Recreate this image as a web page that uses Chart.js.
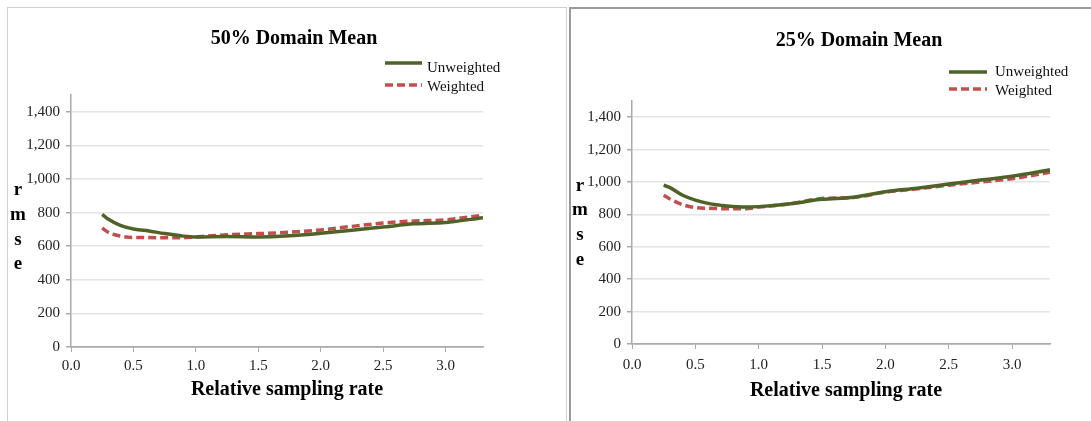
<!DOCTYPE html>
<html>
<head>
<meta charset="utf-8">
<script src="https://cdn.jsdelivr.net/npm/chart.js@4"></script>
<style>
  body { margin: 0; background: #fff; width: 1091px; height: 421px; overflow: hidden; position: relative; }
  .panel { position: absolute; box-sizing: border-box; background: #fff; }
  #p1 { left: 7px; top: 7px; width: 560px; height: 420px; border-left: 1px solid #d0d0d0; border-top: 1px solid #d0d0d0; border-right: 1px solid #d0d0d0; }
  #p2 { left: 569px; top: 7px; width: 530px; height: 420px; border-left: 2px solid #9a9a9a; border-top: 2px solid #9a9a9a; }
  canvas { position: absolute; }
</style>
</head>
<body>
<div class="panel" id="p1"></div>
<div class="panel" id="p2"></div>
<canvas id="c1" width="558" height="413" style="left:8px;top:8px"></canvas>
<canvas id="c2" width="520" height="412" style="left:571px;top:9px"></canvas>
<script>
// relative sampling rate (x)
const rates = [0.25, 0.3, 0.4, 0.5, 0.6, 0.75, 0.9, 1.0, 1.25, 1.5, 1.75, 2.0, 2.25, 2.5, 2.75, 3.0, 3.3];

// 50% domain mean
const unweighted50 = [789, 760, 722, 702, 694, 675, 660, 655, 657, 655, 662, 677, 695, 714, 733, 741, 770];
const weighted50   = [708, 682, 660, 652, 652, 650, 650, 655, 668, 675, 683, 697, 718, 738, 750, 757, 785];

// 25% domain mean
const unweighted25 = [980, 965, 918, 888, 868, 852, 845, 848, 866, 893, 906, 940, 962, 987, 1012, 1035, 1075];
const weighted25   = [918, 895, 860, 842, 838, 835, 835, 845, 866, 898, 905, 938, 958, 980, 1000, 1020, 1060];

const seriesNames = ["Unweighted", "Weighted"];
const yLabelLetters = ["r", "m", "s", "e"];
const xTitle = "Relative sampling rate";

const GREEN = "#4f6228";
const RED = "#c0504d";
const SERIF = "'Liberation Serif', 'Times New Roman', serif";

function toPoints(xs, ys) {
    return xs.map((x, i) => ({ x: x, y: ys[i] }));
}

// draws title, legend, stacked y label and x title
const decorations = {
    id: "decorations",
    afterDraw(chart, args, o) {
        const ctx = chart.ctx;
        ctx.save();
        ctx.fillStyle = "#000";
        ctx.textAlign = "center";
        ctx.textBaseline = "alphabetic";
        ctx.font = "bold 20px " + SERIF;
        ctx.fillText(o.title, o.titleX, o.titleY);
        ctx.fillText(xTitle, o.xTitleX, o.xTitleY);

        ctx.font = "bold 19px " + SERIF;
        yLabelLetters.forEach((ch, i) => {
            ctx.fillText(ch, o.yLabX, o.yLabY[i]);
        });

        // legend
        ctx.font = "15px " + SERIF;
        ctx.textAlign = "left";
        chart.data.datasets.forEach((ds, i) => {
            ctx.beginPath();
            ctx.strokeStyle = ds.borderColor;
            ctx.lineWidth = ds.borderWidth;
            ctx.setLineDash(ds.borderDash || []);
            ctx.moveTo(o.legX0, o.legLineY[i]);
            ctx.lineTo(o.legX1, o.legLineY[i]);
            ctx.stroke();
            ctx.setLineDash([]);
            ctx.fillStyle = "#111";
            ctx.fillText(ds.label, o.legTextX, o.legTextY[i]);
        });
        ctx.restore();
    }
};

function makeChart(id, unw, wtd, lay) {
    const ctx = document.getElementById(id).getContext("2d");
    return new Chart(ctx, {
        type: "line",
        data: {
            datasets: [
                {
                    label: seriesNames[0],
                    data: toPoints(rates, unw),
                    borderColor: GREEN,
                    borderWidth: 3.5,
                    pointRadius: 0,
                    tension: 0.4,
                    cubicInterpolationMode: "monotone"
                },
                {
                    label: seriesNames[1],
                    data: toPoints(rates, wtd),
                    borderColor: RED,
                    borderWidth: 3.5,
                    borderDash: [8, 4],
                    pointRadius: 0,
                    tension: 0.4,
                    cubicInterpolationMode: "monotone"
                }
            ]
        },
        options: {
            responsive: false,
            animation: false,
            layout: { padding: { top: lay.top, right: lay.right, bottom: 0, left: 0 } },
            plugins: {
                legend: { display: false },
                title: { display: false },
                tooltip: { enabled: false },
                decorations: lay.deco
            },
            scales: {
                x: {
                    type: "linear",
                    min: 0,
                    max: 3.3,
                    afterFit: s => { s.height = lay.xHeight; },
                    ticks: {
                        stepSize: 0.5,
                        includeBounds: false,
                        padding: lay.xTickPad,
                        maxRotation: 0,
                        color: "#222",
                        font: { family: SERIF, size: 15 },
                        callback: v => Number(v).toFixed(1)
                    },
                    grid: { drawOnChartArea: false, tickLength: 5, color: "#aaa" },
                    border: { color: "#aaa", width: 1.5 }
                },
                y: {
                    min: 0,
                    max: 1500,
                    afterFit: s => { s.width = lay.yWidth; },
                    ticks: {
                        stepSize: 200,
                        includeBounds: false,
                        padding: 6,
                        color: "#222",
                        font: { family: SERIF, size: 15 }
                    },
                    grid: {
                        color: ctx => ctx.tick && ctx.tick.value === 0 ? "#aaa" : "#e3e3ea",
                        lineWidth: 1.5,
                        tickLength: 5,
                        tickColor: "#aaa"
                    },
                    border: { color: "#aaa", width: 1.5 }
                }
            }
        },
        plugins: [decorations]
    });
}

makeChart("c1", unweighted50, weighted50, {
    top: 87, right: 83, yWidth: 63, xHeight: 74, xTickPad: 5,
    deco: {
        title: "50% Domain Mean", titleX: 286, titleY: 36,
        xTitleX: 279, xTitleY: 387,
        yLabX: 10, yLabY: [187, 212, 237, 261],
        legX0: 377, legX1: 414, legLineY: [55, 77],
        legTextX: 419, legTextY: [64, 83]
    }
});

makeChart("c2", unweighted25, weighted25, {
    top: 92, right: 41, yWidth: 61, xHeight: 77, xTickPad: 7,
    deco: {
        title: "25% Domain Mean", titleX: 288, titleY: 37,
        xTitleX: 275, xTitleY: 387,
        yLabX: 9, yLabY: [182, 206, 231, 256],
        legX0: 378, legX1: 416, legLineY: [63, 80],
        legTextX: 424, legTextY: [67, 86]
    }
});
</script>
</body>
</html>
